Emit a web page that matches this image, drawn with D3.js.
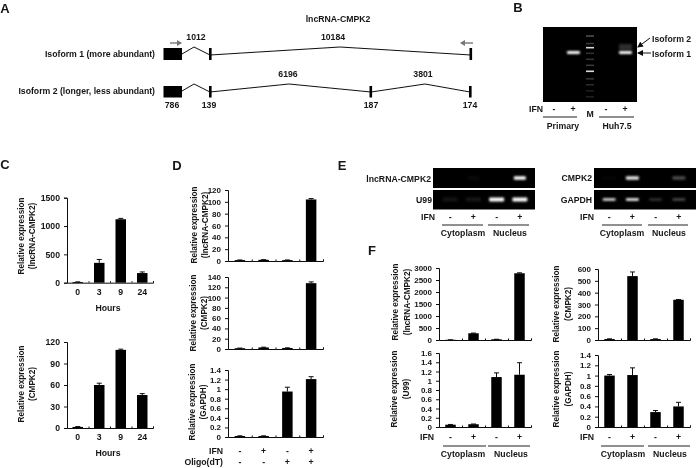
<!DOCTYPE html>
<html><head><meta charset="utf-8">
<script src="https://cdnjs.cloudflare.com/ajax/libs/d3/7.8.5/d3.min.js"></script>
<style>
html,body{margin:0;padding:0;background:#fff}
text{font-family:"Liberation Sans",Arial,sans-serif;font-weight:bold;font-size:8.7px;fill:#151515}
</style></head><body><svg id="c" width="697" height="468"></svg>
<script>
// Data -----------------------------------------------------------
const hours = ["0","3","9","24"];
const lane4 = ["a","b","c","d"];
const ifnRow = ["-","+","-","+"];
const oligoRow = ["-","-","+","+"];

const cLncValues = [10,350,1120,170],  cLncErr = [5,60,15,20];
const cCmpkValues = [1.5,60,109,46],   cCmpkErr = [0.5,2.5,1,2];
const dLncValues = [1.5,2,1.5,104],    dLncErr = [0.3,0.3,0.3,1.5];
const dCmpkValues = [1.5,3,2,128],     dCmpkErr = [0.3,0.5,0.3,2.5];
const dGapdhValues = [0.02,0.02,0.95,1.21], dGapdhErr = [0.005,0.005,0.09,0.05];
const fLncValues = [10,280,30,2780],   fLncErr = [0,10,0,20];
const fU99Values = [0.05,0.06,1.08,1.13], fU99Err = [0.005,0.005,0.09,0.26];
const fCmpkValues = [8,540,8,340],     fCmpkErr = [2,35,2,2];
const fGapdhValues = [1,1.01,0.29,0.4], fGapdhErr = [0.02,0.14,0.03,0.08];

const ticks1500 = [0,500,1000,1500];
const ticks120by30 = [0,30,60,90,120];
const ticks120by20 = [0,20,40,60,80,100,120];
const ticks140by20 = [0,20,40,60,80,100,120,140];
const ticks14 = [0,0.2,0.4,0.6,0.8,1,1.2,1.4];
const ticks16 = [0,0.2,0.4,0.6,0.8,1,1.2,1.4,1.6];
const ticks3000 = [0,500,1000,1500,2000,2500,3000];
const ticks600 = [0,100,200,300,400,500,600];

const ladderPos = [0.11,0.21,0.265,0.34,0.42,0.5,0.58,0.68,0.76,0.84,0.92];
const ladderGlow = [0.3,0.22,0.85,0.18,0.2,0.22,0.85,0.2,0.16,0.12,0.12];
const gelBIntensity = [0,1,0,1];
const eLnc = [0,0.04,0,1], eU99 = [0.08,0.09,1,1];
const eCmpk = [0.02,0.9,0,0.3], eGapdh = [0.9,1,0.2,0.3];

// Setup -----------------------------------------------------------
const svg = d3.select("#c");
const defs = svg.append("defs");
defs.append("filter").attr("id","soft").append("feGaussianBlur").attr("stdDeviation",0.4);
defs.append("filter").attr("id","glow").attr("x","-50%").attr("y","-150%").attr("width","200%").attr("height","400%")
  .append("feGaussianBlur").attr("stdDeviation",1.1);
const mk = defs.append("marker").attr("id","ah").attr("markerUnits","userSpaceOnUse").attr("markerWidth",6).attr("markerHeight",6)
  .attr("refX",5).attr("refY",3).attr("orient","auto");
mk.append("path").attr("d","M0,0L6,3L0,6Z").attr("fill","#111");
const mg = defs.append("marker").attr("id","ag").attr("markerUnits","userSpaceOnUse").attr("markerWidth",5).attr("markerHeight",6)
  .attr("refX",4).attr("refY",3).attr("orient","auto");
mg.append("path").attr("d","M0,0L5,3L0,6Z").attr("fill","#777");

const root = svg.append("g").attr("filter","url(#soft)");

function txt(x,y,s,a,size){
  const t = root.append("text").attr("x",x).attr("y",y).attr("text-anchor",a||"middle")
    .attr("dominant-baseline","central").text(s);
  if(size) t.style("font-size",size+"px");
  return t;
}
function rule(x1,x2,y,w){
  root.append("line").attr("x1",x1).attr("x2",x2).attr("y1",y).attr("y2",y)
    .attr("stroke","#222").attr("stroke-width",w||1.2);
}
function ylabel(x1,x2,cy,l1,l2){
  [[x1,l1],[x2,l2]].forEach(([x,s])=>{
    root.append("text").attr("transform",`translate(${x},${cy}) rotate(-90)`)
      .attr("text-anchor","middle").attr("dominant-baseline","central").style("font-size","8.2px").text(s);
  });
}
function barChart(o){
  const x = d3.scaleBand().domain(lane4).range([o.x0,o.x1]);
  const y = d3.scaleLinear().domain([0,o.max]).range([o.yBase,o.yTop]);
  const g = root.append("g");
  const ya = d3.axisLeft(y).tickValues(o.ticks).tickSize(3).tickFormat(d=>String(d));
  const ay = g.append("g").attr("transform",`translate(${o.x0},0)`).call(ya);
  const xa = d3.axisBottom(d3.scaleLinear().domain([0,4]).range([o.x0,o.x1]))
    .tickValues([0,1,2,3,4]).tickSize(-1.5).tickFormat("");
  const ax = g.append("g").attr("transform",`translate(0,${o.yBase})`).call(xa);
  [ay,ax].forEach(a=>{a.selectAll("path,line").attr("stroke","#111").attr("stroke-width",1);});
  ay.selectAll("text").attr("dx",-1).attr("font-family",null).attr("font-size",null)
    .style("font-size",(o.tf||8)+"px");
  const w = o.bw||10.5;
  const bars = g.selectAll(".b").data(o.values).enter();
  const cx = (d,i)=>x(lane4[i])+x.bandwidth()/2;
  bars.append("line").attr("x1",cx).attr("x2",cx)
    .attr("y1",(d,i)=>y(d)).attr("y2",(d,i)=>y(d+o.err[i])).attr("stroke","#111").attr("stroke-width",1);
  bars.append("line").attr("x1",(d,i)=>cx(d,i)-2.5).attr("x2",(d,i)=>cx(d,i)+2.5)
    .attr("y1",(d,i)=>y(d+o.err[i])).attr("y2",(d,i)=>y(d+o.err[i])).attr("stroke","#111").attr("stroke-width",1);
  bars.append("rect").attr("x",(d,i)=>cx(d,i)-w/2).attr("width",w)
    .attr("y",d=>y(d)).attr("height",d=>Math.max(y(0)-y(d),0.8)).attr("fill","#000");
}
function gel(x,y,w,h){
  root.append("rect").attr("x",x).attr("y",y).attr("width",w).attr("height",h).attr("fill","#050505");
}
function bands(xs,values,cy,bw,bh){
  const g = svg.append("g").attr("filter","url(#glow)");
  g.selectAll("rect").data(values).enter().append("rect")
    .attr("x",(d,i)=>xs(lane4[i])-bw/2).attr("width",bw)
    .attr("y",cy-bh/2).attr("height",bh).attr("rx",1)
    .attr("fill","#fff").attr("opacity",d=>d);
}

// Panel letters ---------------------------------------------------
[["A",5,8],["B",518,7],["C",5,164],["D",177,165],["E",342,165],["F",372,250]]
  .forEach(([s,x,y])=>txt(x,y,s,"middle",13));

// Panel A ---------------------------------------------------------
txt(338,19,"lncRNA-CMPK2");
txt(155,54,"Isoform 1 (more abundant)","end");
txt(155,91,"Isoform 2 (longer, less abundant)","end");
[["1012",196,37],["10184",333,37],["6196",288,74],["3801",423,74],
 ["786",172,105],["139",209,105],["187",371,105],["174",470,105]]
  .forEach(([s,x,y])=>txt(x,y,s));
const curve = d3.line();
root.append("path").attr("fill","none").attr("stroke","#111").attr("stroke-width",1)
  .attr("d",curve([[182,54],[194,47],[210,55],[340,47],[471,55]]));
root.append("path").attr("fill","none").attr("stroke","#111").attr("stroke-width",1)
  .attr("d",curve([[182,91],[194,84],[210,92],[289,84],[371,92],[425,84],[470,92]]));
[[163.5,48,18.5,12],[163.5,86,18.5,11.5],[209,48,2.6,12],[209,86,2.6,11.5],
 [469.5,48,2.6,12],[369.5,86,2.6,11.5],[469,86,2.6,11.5]].forEach(([x,y,w,h])=>{
  root.append("rect").attr("x",x).attr("y",y).attr("width",w).attr("height",h).attr("fill","#000");
});
[[170,181],[473,461]].forEach(([a,b])=>{
  root.append("line").attr("x1",a).attr("x2",b).attr("y1",43).attr("y2",43)
    .attr("stroke","#777").attr("stroke-width",1.4).attr("marker-end","url(#ag)");
});

// Panel B ---------------------------------------------------------
gel(543,27,94,75);
const bx = d3.scaleOrdinal().domain(lane4).range([573.5,573.5,625.5,625.5]);
bands(bx,gelBIntensity,52.5,13,3.2);
const bandB2 = svg.append("g").attr("filter","url(#glow)");
bandB2.append("rect").attr("x",619).attr("y",44).attr("width",13).attr("height",6).attr("fill","#999").attr("opacity",0.3);
const ladY = d3.scaleLinear().domain([0,1]).range([27,102]);
svg.append("g").attr("filter","url(#soft)").selectAll("rect").data(ladderPos).enter().append("rect")
  .attr("x",586).attr("width",8).attr("height",1.6)
  .attr("y",d=>ladY(d)).attr("fill","#fff").attr("opacity",(d,i)=>ladderGlow[i]);
txt(543,109,"IFN","end");
[[554,"-"],[573,"+"],[606,"-"],[625,"+"]].forEach(([x,s])=>txt(x,108.5,s));
txt(590,114,"M");
rule(543,577,117); rule(599,634,117);
txt(563,126,"Primary"); txt(617,126,"Huh7.5");
txt(652,39,"Isoform 2","start"); txt(652,54,"Isoform 1","start");
root.append("line").attr("x1",650).attr("y1",38).attr("x2",638).attr("y2",47).attr("stroke","#111").attr("stroke-width",1).attr("marker-end","url(#ah)");
root.append("line").attr("x1",651).attr("y1",53).attr("x2",638).attr("y2",53).attr("stroke","#111").attr("stroke-width",1).attr("marker-end","url(#ah)");

// Panel C ---------------------------------------------------------
barChart({x0:67,x1:153,yBase:282.7,yTop:197.7,max:1500,ticks:ticks1500,values:cLncValues,err:cLncErr,tf:8.7});
barChart({x0:67,x1:153,yBase:428,yTop:342,max:120,ticks:ticks120by30,values:cCmpkValues,err:cCmpkErr,tf:8.7});
ylabel(21,32,236,"Relative expression","(lncRNA-CMPK2)");
ylabel(21,32,384,"Relative expression","(CMPK2)");
const cx = d3.scaleBand().domain(hours).range([67,153]);
hours.forEach(h=>{
  txt(cx(h)+cx.bandwidth()/2,291.5,h);
  txt(cx(h)+cx.bandwidth()/2,437,h);
});
txt(108,308,"Hours"); txt(108,453,"Hours");

// Panel D ---------------------------------------------------------
barChart({x0:228,x1:323,yBase:261,yTop:190,max:120,ticks:ticks120by20,values:dLncValues,err:dLncErr});
barChart({x0:228,x1:323,yBase:349,yTop:277,max:140,ticks:ticks140by20,values:dCmpkValues,err:dCmpkErr});
barChart({x0:228,x1:323,yBase:437,yTop:370,max:1.4,ticks:ticks14,values:dGapdhValues,err:dGapdhErr});
ylabel(194,205,225,"Relative expression","(lncRNA-CMPK2)");
ylabel(193,204,313,"Relative expression","(CMPK2)");
ylabel(192,203,402,"Relative expression","(GAPDH)");
txt(223,450.5,"IFN","end"); txt(223,462,"Oligo(dT)","end");
const dx = d3.scaleBand().domain(lane4).range([228,323]);
lane4.forEach((k,i)=>{
  txt(dx(k)+dx.bandwidth()/2,450.5,ifnRow[i]);
  txt(dx(k)+dx.bandwidth()/2,462,oligoRow[i]);
});

// Panel E ---------------------------------------------------------
const exL = d3.scaleBand().domain(lane4).range([438.5,531.5]);
const exR = d3.scaleBand().domain(lane4).range([597.5,690.5]);
const cL = k=>exL(k)+exL.bandwidth()/2, cR = k=>exR(k)+exR.bandwidth()/2;
gel(433,168,102,20); gel(433,190,102,19.5);
gel(594,168,102,20); gel(594,190,102,19.5);
bands(cL,eLnc,178,12,3.4);
bands(cL,eU99,199.5,15,3.8);
bands(cR,eCmpk,178,13,3.4);
bands(cR,eGapdh,199.5,13,2.4);
txt(431,179,"lncRNA-CMPK2","end"); txt(432,200,"U99","end");
txt(592,178,"CMPK2","end"); txt(592,200,"GAPDH","end");
txt(435,217,"IFN","end"); txt(594,217,"IFN","end");
lane4.forEach((k,i)=>{ txt(cL(k),216.5,ifnRow[i]); txt(cR(k),216.5,ifnRow[i]); });
rule(442,483,225); rule(488,529,225); rule(602,642,225); rule(648,688,225);
txt(463,233,"Cytoplasm"); txt(510,233,"Nucleus"); txt(622,233,"Cytoplasm"); txt(669,233,"Nucleus");

// Panel F ---------------------------------------------------------
barChart({x0:439,x1:531,yBase:340,yTop:268,max:3000,ticks:ticks3000,values:fLncValues,err:fLncErr});
barChart({x0:439,x1:531,yBase:427,yTop:353,max:1.6,ticks:ticks16,values:fU99Values,err:fU99Err});
barChart({x0:598,x1:690,yBase:340,yTop:269,max:600,ticks:ticks600,values:fCmpkValues,err:fCmpkErr});
barChart({x0:598,x1:690,yBase:427,yTop:355,max:1.4,ticks:ticks14,values:fGapdhValues,err:fGapdhErr});
ylabel(395,407,302,"Relative expression","(lncRNA-CMPK2)");
ylabel(394,406,389,"Relative expression","(U99)");
ylabel(556,568,304,"Relative expression","(CMPK2)");
ylabel(556,568,389,"Relative expression","(GAPDH)");
txt(434,437,"IFN","end"); txt(594,437,"IFN","end");
const fL = d3.scaleBand().domain(lane4).range([439,531]);
const fR = d3.scaleBand().domain(lane4).range([598,690]);
lane4.forEach((k,i)=>{
  txt(fL(k)+fL.bandwidth()/2,437,ifnRow[i]);
  txt(fR(k)+fR.bandwidth()/2,437,ifnRow[i]);
});
rule(443,486,446); rule(488,530,446); rule(601,644,446); rule(648,690,446);
txt(463,454,"Cytoplasm"); txt(511,454,"Nucleus"); txt(623,454,"Cytoplasm"); txt(670,454,"Nucleus");
</script></body></html>
